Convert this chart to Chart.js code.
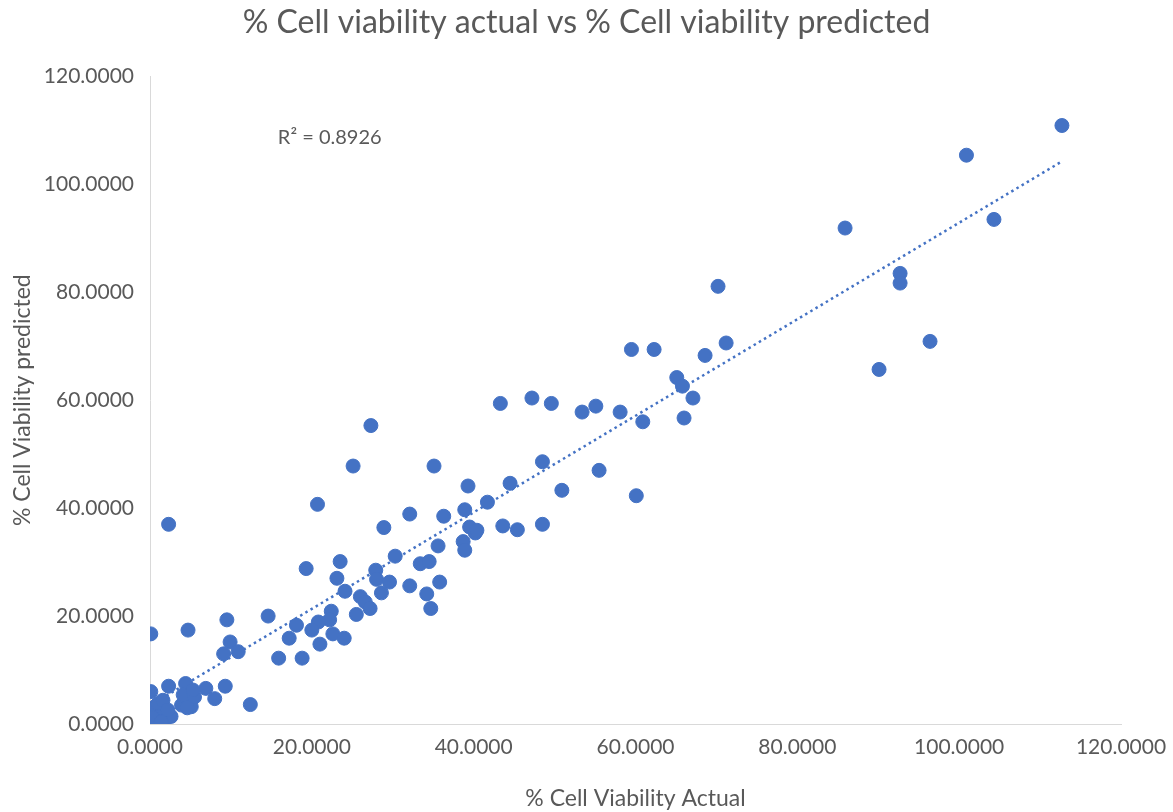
<!DOCTYPE html>
<html>
<head>
<meta charset="utf-8">
<script src="https://cdn.jsdelivr.net/npm/chart.js@4.4.1/dist/chart.umd.min.js"></script>
<style>
body { margin: 0; background: white; }
#wrap { width: 1173px; height: 812px; }
</style>
</head>
<body>
<div id="wrap"><canvas id="myChart" width="1173" height="812"></canvas></div>
<script>
const actual = [
  0.1, 0.2, 0.6, 1.0, 1.6, 1.0, 1.8, 2.6, 2.2, 0.3, 1.4, 2.3, 4.4, 3.9, 4.7, 5.1, 4.1, 5.5, 4.6, 6.9,
  8.0, 9.3, 12.4, 5.3, 0.1, 4.7, 2.3, 9.5, 9.9, 9.1, 10.9, 14.6, 15.9, 18.8, 17.2, 18.1, 20.7, 19.3, 23.5, 23.1,
  24.1, 22.4, 22.2, 20.8, 20.0, 21.0, 22.6, 24.0, 25.5, 26.0, 26.6, 27.2, 27.9, 28.0, 29.6, 28.6, 28.9, 30.3, 27.3, 25.1,
  35.1, 32.1, 36.3, 39.3, 38.9, 41.7, 44.5, 43.6, 39.5, 40.2, 40.4, 38.7, 38.9, 35.6, 33.4, 34.5, 32.1, 35.8, 34.2, 34.7,
  43.3, 47.2, 49.6, 53.4, 55.1, 58.1, 60.9, 65.1, 65.8, 67.1, 66.0, 48.5, 55.5, 50.9, 60.1, 45.4, 48.5, 59.5, 62.3, 68.6,
  71.2, 70.2, 85.9, 90.1, 92.7, 92.7, 96.4, 100.9, 104.3, 112.7
];

const predicted = [
  6.0, 2.0, 3.2, 3.8, 4.4, 1.4, 0.7, 1.4, 2.6, 1.2, 0.4, 7.0, 7.5, 3.5, 4.4, 3.2, 5.4, 5.0, 3.0, 6.6,
  4.7, 7.0, 3.6, 6.3, 16.7, 17.4, 37.0, 19.3, 15.2, 13.0, 13.4, 20.0, 12.2, 12.2, 15.9, 18.3, 40.7, 28.8, 30.1, 27.0,
  24.6, 20.9, 19.3, 18.9, 17.4, 14.8, 16.7, 15.9, 20.3, 23.6, 22.6, 21.4, 28.5, 26.8, 26.3, 24.3, 36.4, 31.1, 55.3, 47.8,
  47.8, 38.9, 38.5, 44.1, 39.7, 41.1, 44.6, 36.7, 36.5, 35.4, 35.9, 33.8, 32.2, 33.0, 29.7, 30.1, 25.6, 26.3, 24.1, 21.4,
  59.4, 60.4, 59.4, 57.8, 58.9, 57.8, 56.0, 64.2, 62.6, 60.4, 56.7, 48.6, 47.0, 43.3, 42.3, 36.0, 37.0, 69.4, 69.4, 68.3,
  70.6, 81.1, 91.9, 65.7, 83.5, 81.7, 70.9, 105.4, 93.5, 110.9
];

const rSquaredLabel = "R² = 0.8926";

// least squares line, like the excel trendline
function trendPoints() {
  const n = actual.length;
  let sx = 0, sy = 0, sxx = 0, sxy = 0;
  for (let i = 0; i < n; i++) {
    sx += actual[i];
    sy += predicted[i];
    sxx += actual[i] * actual[i];
    sxy += actual[i] * predicted[i];
  }
  const b = (n * sxy - sx * sy) / (n * sxx - sx * sx);
  const a = (sy - b * sx) / n;
  const minX = Math.min(...actual);
  const maxX = Math.max(...actual);
  return [{ x: minX, y: a + b * minX }, { x: maxX, y: a + b * maxX }];
}

const points = actual.map((v, i) => ({ x: v, y: predicted[i] }));

const textColor = "#595959";
const fontName = "Lato";

const r2Plugin = {
  id: "r2label",
  afterDatasetsDraw(chart) {
    const ctx = chart.ctx;
    const xs = chart.scales.x;
    const ys = chart.scales.y;
    ctx.save();
    ctx.font = "20px " + fontName;
    ctx.fillStyle = textColor;
    ctx.textAlign = "left";
    ctx.textBaseline = "middle";
    ctx.fillText(rSquaredLabel, xs.getPixelForValue(15.8), ys.getPixelForValue(108.7));
    ctx.restore();
  }
};

const config = {
  type: "scatter",
  data: {
    datasets: [
      {
        label: "Predicted",
        data: points,
        backgroundColor: "#4472C4",
        borderColor: "#4472C4",
        pointRadius: 7,
        pointHoverRadius: 7,
        order: 1
      },
      {
        label: "Trend",
        type: "line",
        data: trendPoints(),
        borderColor: "#4472C4",
        borderWidth: 2.5,
        borderDash: [2.5, 3.5],
        pointRadius: 0,
        fill: false,
        order: 2
      }
    ]
  },
  options: {
    responsive: false,
    animation: false,
    layout: { padding: 0 },
    plugins: {
      legend: { display: false },
      tooltip: { enabled: false },
      title: {
        display: true,
        text: "% Cell viability actual vs % Cell viability predicted",
        color: textColor,
        font: { family: fontName, size: 32, weight: "normal" },
        padding: { top: 3, bottom: 35 }
      }
    },
    scales: {
      x: {
        type: "linear",
        min: 0,
        max: 120,
        grid: { display: false, drawTicks: false },
        border: { display: true, color: "#d9d9d9", width: 1 },
        ticks: {
          stepSize: 20,
          padding: 11,
          color: textColor,
          font: { family: fontName, size: 21 },
          callback: (v) => v.toFixed(4)
        },
        title: {
          display: true,
          text: "% Cell Viability Actual",
          color: textColor,
          font: { family: fontName, size: 23 },
          padding: { top: 4, bottom: 0 }
        },
        afterFit: (scale) => {
          scale.height = 88;
          scale.paddingLeft = 0;
          scale.paddingRight = 0;
        }
      },
      y: {
        type: "linear",
        min: 0,
        max: 120,
        grid: { display: false, drawTicks: false },
        border: { display: true, color: "#d9d9d9", width: 1 },
        ticks: {
          stepSize: 20,
          padding: 16,
          color: textColor,
          font: { family: fontName, size: 21 },
          callback: (v) => v.toFixed(4)
        },
        title: {
          display: true,
          text: "% Cell Viability predicted",
          color: textColor,
          font: { family: fontName, size: 23 },
          padding: { top: 9, bottom: 4 }
        },
        afterFit: (scale) => { scale.width = 150; }
      },
      // empty right side, keeps the plot at the same right edge as excel
      rightGap: {
        type: "linear",
        position: "right",
        display: true,
        grid: { display: false, drawTicks: false },
        border: { display: false },
        ticks: { display: false },
        afterFit: (scale) => { scale.width = 52; }
      }
    }
  },
  plugins: [r2Plugin]
};

const myChart = document.getElementById("myChart");
new Chart(myChart, config);
</script>
</body>
</html>
